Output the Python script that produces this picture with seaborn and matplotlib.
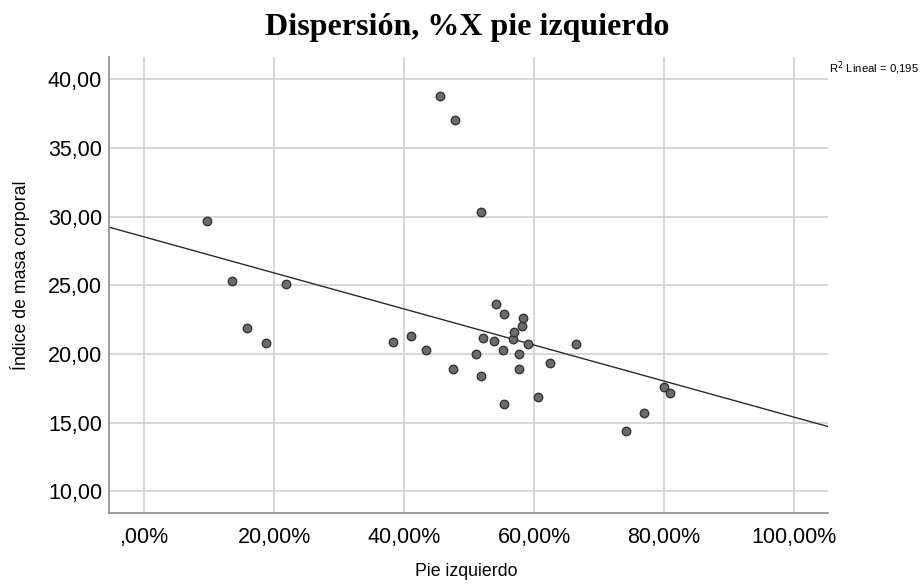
import matplotlib
matplotlib.use("Agg")
import matplotlib.pyplot as plt
import seaborn as sns
import numpy as np
import pandas as pd

# Data (x in percent, y = BMI)
pie_izquierdo = [9.74, 13.6, 15.9, 18.77, 21.85, 38.26, 41.0, 43.4, 45.6, 47.5,
                 47.8, 51.0, 51.85, 51.9, 52.15, 53.9, 54.2, 55.2, 55.4, 55.4,
                 56.8, 56.9, 57.6, 57.7, 58.15, 58.25, 59.0, 60.66, 62.5, 66.4,
                 74.15, 76.9, 80.0, 80.97]
imc = [29.69, 25.29, 21.89, 20.82, 25.12, 20.90, 21.31, 20.29, 38.79, 18.88,
       37.06, 20.0, 18.37, 30.36, 21.19, 20.95, 23.62, 20.29, 22.94, 16.34,
       21.07, 21.58, 20.0, 18.91, 22.04, 22.65, 20.73, 16.87, 19.32, 20.73,
       14.42, 15.68, 17.57, 17.14]
x_ticks = [0, 20, 40, 60, 80, 100]
x_tick_labels = [",00%", "20,00%", "40,00%", "60,00%", "80,00%", "100,00%"]
y_ticks = [10, 15, 20, 25, 30, 35, 40]
y_tick_labels = ["10,00", "15,00", "20,00", "25,00", "30,00", "35,00", "40,00"]
r2_text = "0,195"

df = pd.DataFrame({"Pie izquierdo": pie_izquierdo, "IMC": imc})

sns.set_style("white")
plt.rcParams["font.family"] = ["Liberation Sans", "DejaVu Sans"]
plt.rcParams["text.color"] = "black"

fig = plt.figure(figsize=(9.21, 5.84), dpi=100)
ax = fig.add_axes([109 / 921, 1 - 512.7 / 584, (828 - 109) / 921, (512.7 - 57) / 584])

ax.set_xlim(-5.38, 105.2)
ax.set_ylim(8.44, 41.63)

ax.set_xticks(x_ticks)
ax.set_xticklabels(x_tick_labels)
ax.set_yticks(y_ticks)
ax.set_yticklabels(y_tick_labels)
ax.grid(True, color="#d4d4d4", linewidth=1.3)
ax.set_axisbelow(True)

sns.regplot(data=df, x="Pie izquierdo", y="IMC", ax=ax, ci=None, truncate=False,
            scatter=False, line_kws={"color": "#2b2b2b", "linewidth": 1.0})
sns.scatterplot(data=df, x="Pie izquierdo", y="IMC", ax=ax, s=38,
                color="#6b6b6b", edgecolor="#2e2e2e", linewidth=0.9, zorder=3)

ax.set_xlim(-5.38, 105.2)
ax.set_ylim(8.44, 41.63)

for s in ["top", "right"]:
    ax.spines[s].set_visible(False)
for s in ["left", "bottom"]:
    ax.spines[s].set_color("#8c8c8c")
    ax.spines[s].set_linewidth(1.2)

ax.tick_params(axis="both", length=0, labelsize=15.5, colors="black")
ax.tick_params(axis="x", pad=10)
ax.tick_params(axis="y", pad=5)

ax.set_xlabel("")
ax.set_ylabel("")
fig.text(466 / 921, 1 - 571 / 584, "Pie izquierdo", ha="center", va="center",
         fontsize=12.8, color="black")
fig.text(20 / 921, 1 - 275 / 584, "Índice de masa corporal", ha="center", va="center",
         rotation=90, fontsize=12.8, color="black")

fig.text(467.5 / 921, 1 - 28 / 584, "Dispersión, %X pie izquierdo", ha="center", va="center",
         fontsize=23, fontweight="bold", color="black",
         family=["Liberation Serif", "DejaVu Serif"])

fig.text(829 / 921, 1 - 68 / 584, "R$^2$ Lineal = " + r2_text, ha="left", va="center",
         fontsize=8.2, color="black")

fig.savefig("out.png", dpi=100)
